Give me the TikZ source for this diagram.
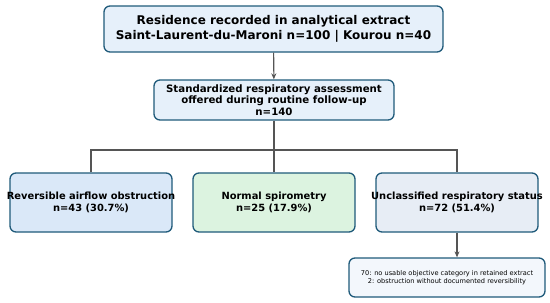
\documentclass[tikz,border=0pt]{standalone}
\usepackage{fontspec}
\setmainfont{DejaVu Sans}
\usetikzlibrary{arrows.meta}
\definecolor{bord}{HTML}{1F5A7A}
\definecolor{ftop}{HTML}{E6F0FA}
\definecolor{fa}{HTML}{DAE8F8}
\definecolor{fb}{HTML}{DCF3E0}
\definecolor{fc}{HTML}{E7EDF5}
\definecolor{fn}{HTML}{F3F7FC}
\definecolor{conn}{HTML}{555555}
\begin{document}
\begin{tikzpicture}[x=1pt,y=-1pt,
  box/.style={draw=bord,line width=1.3pt,rounded corners=6pt,align=center,inner sep=0pt},
  outcome/.style={box,minimum width=162pt,minimum height=59pt},
  otext/.style={align=center,inner sep=0pt,font=\bfseries\fontsize{9.9}{12.2}\selectfont},
  link/.style={draw=conn,line width=1.1pt},
  arr/.style={link,-{Stealth[length=6pt,width=5pt]}}]
\useasboundingbox (0,0) rectangle (550,303);
\node[box,fill=ftop,minimum width=339pt,minimum height=46pt,font=\bfseries\fontsize{12}{15}\selectfont] (top) at (273.5,29) {Residence recorded in analytical extract\\Saint-Laurent-du-Maroni n=100 | Kourou n=40};
\node[box,fill=ftop,minimum width=240pt,minimum height=40pt,font=\bfseries\fontsize{10.2}{11.6}\selectfont] (assess) at (274,100) {Standardized respiratory assessment\\offered during routine follow-up\\n=140};
\node[outcome,fill=fa,label={[otext]center:Reversible airflow obstruction\\n=43 (30.7\%)}] (rev) at (91,202.5) {};
\node[outcome,fill=fb,label={[otext]center:Normal spirometry\\n=25 (17.9\%)}] (norm) at (274,202.5) {};
\node[outcome,fill=fc,label={[otext]center:Unclassified respiratory status\\n=72 (51.4\%)}] (uncl) at (457,202.5) {};
\node[box,fill=fn,minimum width=196pt,minimum height=39pt,font=\fontsize{6.6}{8}\selectfont] (note) at (447,277.5) {70: no usable objective category in retained extract\\2: obstruction without documented reversibility};
\coordinate (br) at (274,150);
\draw[arr] (top) -- (assess);
\draw[link] (assess) -- (br);
\draw[link] (br) -- (norm);
\draw[link] (rev.north) |- (br) -| (uncl.north);
\draw[arr] (uncl.south) -- (uncl.south |- note.north);
\end{tikzpicture}
\end{document}
